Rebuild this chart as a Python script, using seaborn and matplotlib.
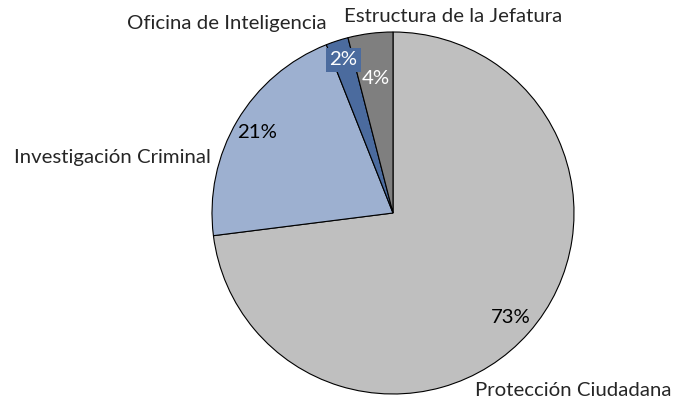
import numpy as np
import matplotlib
matplotlib.use("Agg")
import matplotlib.pyplot as plt
import seaborn as sns

# Datos del grafico
categorias = ["Protección Ciudadana", "Investigación Criminal", "Oficina de Inteligencia", "Estructura de la Jefatura"]
porcentajes = [73, 21, 2, 4]
colores = ["#BFBFBF", "#9DB0D0", "#4B6B9E", "#7F7F7F"]

sns.set_theme(style="white")
plt.rcParams['font.family'] = ['Lato', 'DejaVu Sans']
fs = 14.7

fig = plt.figure(figsize=(6.77, 4.05), dpi=100)
ax = fig.add_axes([0, 0, 1, 1])

# centro y radio en pixeles (y hacia arriba)
cx, cy, r = 393, 405 - 213, 181

wedges, _, autotexts = ax.pie(
    porcentajes, colors=colores, startangle=90, counterclock=False,
    center=(cx, cy), radius=r, autopct="%1.0f%%", pctdistance=0.87,
    wedgeprops=dict(edgecolor="black", linewidth=0.8),
    textprops=dict(fontsize=fs, color="black"))

# pie() cambia los limites, se fijan despues
ax.set_xlim(0, 677)
ax.set_ylim(0, 405)
ax.set_aspect("equal")
ax.axis("off")

# ajustar etiquetas de porcentaje
dist = [0.87, 0.87, 0.89, 0.75]
for w, t, d in zip(wedges, autotexts, dist):
    ang = np.deg2rad((w.theta1 + w.theta2) / 2)
    t.set_position((cx + d * r * np.cos(ang), cy + d * r * np.sin(ang)))
autotexts[2].set_color("white")
autotexts[2].set_bbox(dict(facecolor="#4B6B9E", edgecolor="none", pad=2.5))
autotexts[3].set_color("white")

# etiquetas de categoria
ax.text(475, 405 - 390, categorias[0], ha="left", va="center", fontsize=fs)
ax.text(211, 405 - 157, categorias[1], ha="right", va="center", fontsize=fs)
ax.text(327, 405 - 23, categorias[2], ha="right", va="center", fontsize=fs)
ax.text(344, 405 - 17, categorias[3], ha="left", va="center", fontsize=fs)

fig.savefig("out.png", dpi=100, facecolor="white")
